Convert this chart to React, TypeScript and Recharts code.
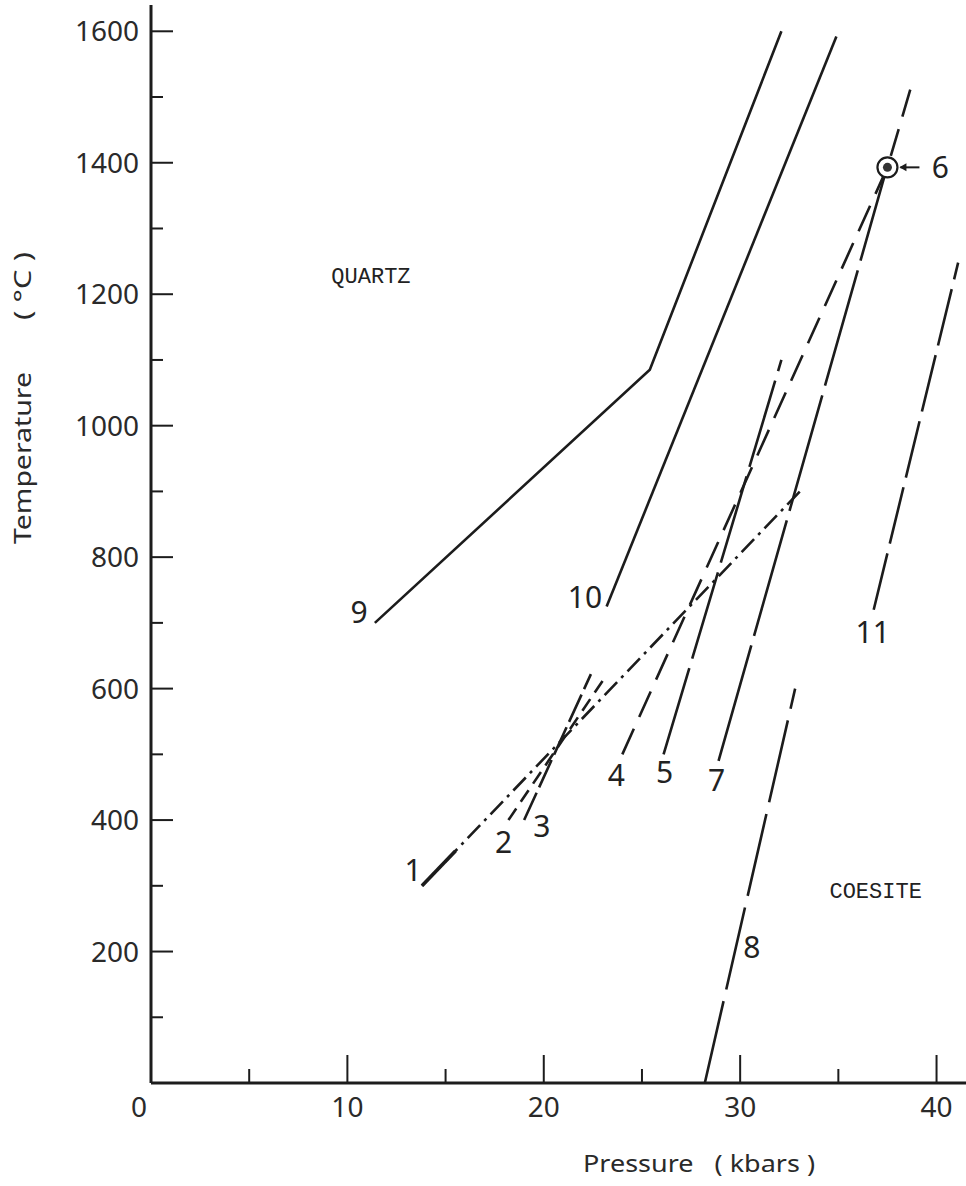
import { ComposedChart, Line, Scatter, XAxis, YAxis, Label } from 'recharts';

// Quartz / coesite transition curves, pressure in kbar, temperature in °C
const curve1 = [{ p: 13.8, t: 300 }, { p: 33.2, t: 905 }];
const curve1Head = [{ p: 13.8, t: 300 }, { p: 15.5, t: 353 }];
const curve2 = [{ p: 18.2, t: 400 }, { p: 23.0, t: 612 }];
const curve3 = [{ p: 19.0, t: 400 }, { p: 22.4, t: 622 }];
const curve4 = [{ p: 24.0, t: 500 }, { p: 37.5, t: 1393 }, { p: 38.7, t: 1515 }];
const curve5 = [{ p: 26.1, t: 500 }, { p: 32.1, t: 1100 }];
const curve7 = [{ p: 28.9, t: 490 }, { p: 37.4, t: 1385 }];
const curve8 = [{ p: 28.2, t: 0 }, { p: 32.8, t: 600 }];
const curve9 = [{ p: 11.4, t: 700 }, { p: 25.4, t: 1085 }, { p: 32.1, t: 1600 }];
const curve10 = [{ p: 23.2, t: 725 }, { p: 34.9, t: 1592 }];
const curve11 = [{ p: 36.8, t: 720 }, { p: 41.1, t: 1248 }];
const point6 = [{ p: 37.5, t: 1393, text: '6' }];

// curve numbers placed next to each curve
const curveNumbers = [
  { p: 13.35, t: 324, text: '1' },
  { p: 17.95, t: 367, text: '2' },
  { p: 19.9, t: 390, text: '3' },
  { p: 23.7, t: 468, text: '4' },
  { p: 26.15, t: 473, text: '5' },
  { p: 28.8, t: 461, text: '7' },
  { p: 30.6, t: 207, text: '8' },
  { p: 10.6, t: 716, text: '9' },
  { p: 22.1, t: 739, text: '10' },
  { p: 36.75, t: 686, text: '11' },
];

const phaseNames = [
  { p: 11.2, t: 1229, text: 'QUARTZ' },
  { p: 36.9, t: 293, text: 'COESITE' },
];

const pressureTicks = [0, 5, 10, 15, 20, 25, 30, 35, 40];
const temperatureTicks = [0, 100, 200, 300, 400, 500, 600, 700, 800, 900, 1000, 1100, 1200, 1300, 1400, 1500, 1600];

const ink = '#1c1c1c';
const labelFont = '"Noto Sans", "DejaVu Sans", sans-serif';
const monoFont = '"Liberation Mono", "DejaVu Sans Mono", monospace';

const TempTick = ({ x, y, payload }: any) => {
  const v = payload.value;
  const major = v % 200 === 0;
  if (v === 0) return null;
  return (
    <g>
      <line x1={x} x2={x + (major ? 22 : 12)} y1={y} y2={y} stroke={ink} strokeWidth={2} />
      {major && (
        <text x={x - 12} y={y} dy="0.36em" textAnchor="end" fontFamily={labelFont} fontSize={28} fill="#2a2a2a">
          {v}
        </text>
      )}
    </g>
  );
};

const PressureTick = ({ x, y, payload }: any) => {
  const v = payload.value;
  const major = v % 10 === 0;
  return (
    <g>
      {v > 0 && <line x1={x} x2={x} y1={y} y2={y - (major ? 28 : 14)} stroke={ink} strokeWidth={2} />}
      {major && (
        <text x={v === 0 ? x - 12 : x} y={y + 24} dy="0.36em" textAnchor="middle" fontFamily={labelFont} fontSize={28} fill="#2a2a2a">
          {v}
        </text>
      )}
    </g>
  );
};

const PressureTitle = ({ viewBox }: any) => (
  <text x={viewBox.x + 548} y={viewBox.y + 80} dy="0.36em" textAnchor="middle" fontFamily={labelFont} fontSize={24} fill="#2a2a2a" textLength={232} lengthAdjust="spacingAndGlyphs" style={{ whiteSpace: 'pre' }}>
    {'Pressure   ( kbars )'}
  </text>
);

const TemperatureTitle = () => (
  <g fontFamily={labelFont} fontSize={24} fill="#2a2a2a">
    <text x={22} y={458} dy="0.36em" textAnchor="middle" transform="rotate(-90 22 458)" textLength={172} lengthAdjust="spacingAndGlyphs">
      Temperature
    </text>
    <text x={22} y={286} dy="0.36em" textAnchor="middle" transform="rotate(-90 22 286)" textLength={68} lengthAdjust="spacingAndGlyphs" style={{ whiteSpace: 'pre' }}>
      {'( °C )'}
    </text>
  </g>
);

const NumberMark = ({ cx, cy, payload }: any) => (
  <text x={cx} y={cy} dy="0.36em" textAnchor="middle" fontFamily={labelFont} fontSize={30} fill="#222">
    {payload.text}
  </text>
);

const PhaseMark = ({ cx, cy, payload }: any) => (
  <text x={cx} y={cy} dy="0.36em" textAnchor="middle" fontFamily={monoFont} fontSize={22} fill="#222">
    {payload.text}
  </text>
);

// single experiment point: ringed dot with an arrow pointing at it
const RingedPoint = ({ cx, cy, payload }: any) => (
  <g>
    <circle cx={cx} cy={cy} r={10} fill="#fff" stroke={ink} strokeWidth={2.2} />
    <circle cx={cx} cy={cy} r={4.5} fill="#333" />
    <line x1={cx + 13} x2={cx + 32} y1={cy} y2={cy} stroke={ink} strokeWidth={2} />
    <path d={`M${cx + 12},${cy} l7,-4 l0,8 z`} fill={ink} />
    <text x={cx + 53} y={cy} dy="0.36em" textAnchor="middle" fontFamily={labelFont} fontSize={30} fill="#222">
      {payload.text}
    </text>
  </g>
);

const lineProps = {
  dataKey: 't',
  type: 'linear' as const,
  stroke: ink,
  strokeWidth: 2.6,
  dot: false,
  activeDot: false,
  isAnimationActive: false,
};

export default function App() {
  return (
    <div style={{ position: 'absolute', left: 0, top: 0, width: 966, height: 1186, background: '#fff' }}>
      <ComposedChart width={966} height={1186} margin={{ top: 5, right: 0, bottom: 43, left: 41 }}>
        <XAxis
          type="number"
          dataKey="p"
          domain={[0, 41.5]}
          ticks={pressureTicks}
          allowDataOverflow
          height={60}
          tickSize={0}
          tickMargin={0}
          tickLine={false}
          tick={<PressureTick />}
          axisLine={{ stroke: ink, strokeWidth: 3 }}
        >
          <Label content={<PressureTitle />} />
        </XAxis>
        <YAxis
          type="number"
          dataKey="t"
          domain={[0, 1640]}
          ticks={temperatureTicks}
          allowDataOverflow
          width={110}
          tickSize={0}
          tickMargin={0}
          tickLine={false}
          tick={<TempTick />}
          axisLine={{ stroke: ink, strokeWidth: 3 }}
        >
          <Label content={<TemperatureTitle />} />
        </YAxis>

        <Line {...lineProps} data={curve9} />
        <Line {...lineProps} data={curve10} />
        <Line {...lineProps} data={curve1} strokeDasharray="18 6 3 6" />
        <Line {...lineProps} data={curve1Head} strokeWidth={3.6} />
        <Line {...lineProps} data={curve2} strokeDasharray="14 8" />
        <Line {...lineProps} data={curve3} strokeDasharray="30 6" />
        <Line {...lineProps} data={curve4} strokeDasharray="28 13" />
        <Line {...lineProps} data={curve5} strokeDasharray="90 10" />
        <Line {...lineProps} data={curve7} strokeDasharray="120 10" />
        <Line {...lineProps} data={curve8} strokeDasharray="84 12" />
        <Line {...lineProps} data={curve11} strokeDasharray="58 10" />

        <Scatter data={point6} shape={<RingedPoint />} isAnimationActive={false} />
        <Scatter data={curveNumbers} shape={<NumberMark />} isAnimationActive={false} />
        <Scatter data={phaseNames} shape={<PhaseMark />} isAnimationActive={false} />
      </ComposedChart>
    </div>
  );
}
